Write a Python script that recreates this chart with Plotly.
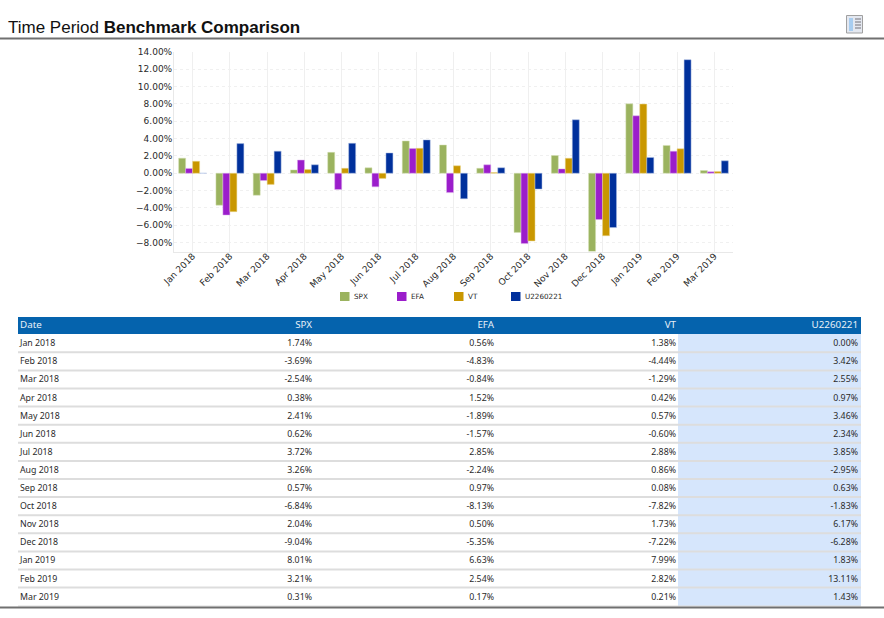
import plotly.graph_objects as go

months = ["Jan 2018", "Feb 2018", "Mar 2018", "Apr 2018", "May 2018", "Jun 2018", "Jul 2018", "Aug 2018",
          "Sep 2018", "Oct 2018", "Nov 2018", "Dec 2018", "Jan 2019", "Feb 2019", "Mar 2019"]
spx = [1.74, -3.69, -2.54, 0.38, 2.41, 0.62, 3.72, 3.26, 0.57, -6.84, 2.04, -9.04, 8.01, 3.21, 0.31]
efa = [0.56, -4.83, -0.84, 1.52, -1.89, -1.57, 2.85, -2.24, 0.97, -8.13, 0.50, -5.35, 6.63, 2.54, 0.17]
vt = [1.38, -4.44, -1.29, 0.42, 0.57, -0.60, 2.88, 0.86, 0.08, -7.82, 1.73, -7.22, 7.99, 2.82, 0.21]
u2260221 = [0.00, 3.42, 2.55, 0.97, 3.46, 2.34, 3.85, -2.95, 0.63, -1.83, 6.17, -6.28, 1.83, 13.11, 1.43]

series_names = ["SPX", "EFA", "VT", "U2260221"]
series_values = [spx, efa, vt, u2260221]
series_colors = ["#9BB35F", "#9B1DCB", "#C99700", "#00309C"]
series_edges = ["#D5E0B5", "#DDB0EE", "#EBD890", "#B0C0E4"]
y_ticks = [-8, -6, -4, -2, 0, 2, 4, 6, 8, 10, 12, 14]

W, H = 884, 618
TEXT = "#2A2A2A"
TABLE_FONT = "Noto Sans"

fig = go.Figure()

for name, values, color, edge in zip(series_names, series_values, series_colors, series_edges):
    fig.add_trace(go.Bar(x=months, y=values, name=name, marker_color=color,
                         marker_line=dict(color=edge, width=0.5), hoverinfo="x+y", showlegend=False))

# table drawn on a second, pixel sized pair of axes
row_y = [342.5 + i * 18.1 for i in range(len(months))]
text_y = [y + 1.6 for y in row_y]
col_right = [312, 494, 676, 858]

fig.add_trace(go.Scatter(x=[20] * len(months), y=text_y, text=months, mode="text",
                         textposition="middle right", xaxis="x2", yaxis="y2", showlegend=False,
                         textfont=dict(family=TABLE_FONT, size=8.8, color=TEXT), hoverinfo="skip"))
for right, values in zip(col_right, series_values):
    fig.add_trace(go.Scatter(x=[right] * len(months), y=text_y, text=[f"{v:.2f}%" for v in values],
                             mode="text", textposition="middle left", xaxis="x2", yaxis="y2",
                             showlegend=False, hoverinfo="skip",
                             textfont=dict(family=TABLE_FONT, size=8.8, color=TEXT)))

# header labels
fig.add_trace(go.Scatter(x=[20], y=[326], text=["Date"], mode="text", textposition="middle right",
                         xaxis="x2", yaxis="y2", showlegend=False, hoverinfo="skip",
                         textfont=dict(family=TABLE_FONT, size=9.8, color="#E8F0F8")))
fig.add_trace(go.Scatter(x=col_right, y=[326] * 4, text=series_names, mode="text",
                         textposition="middle left", xaxis="x2", yaxis="y2", showlegend=False,
                         hoverinfo="skip", textfont=dict(family=TABLE_FONT, size=9.8, color="#E8F0F8")))

shapes = [
    dict(type="line", x0=0, x1=W, y0=38.5, y1=38.5, line=dict(color="#707070", width=2)),
    dict(type="rect", x0=678, x1=861, y0=334, y1=606, fillcolor="#D6E6FC", line_width=0),
    dict(type="rect", x0=18, x1=861, y0=317, y1=334, fillcolor="#0563AD", line_width=0),
    dict(type="line", x0=18, x1=861, y0=606, y1=606, line=dict(color="#DDDDDD", width=1)),
    dict(type="line", x0=0, x1=W, y0=607.5, y1=607.5, line=dict(color="#707070", width=2)),
    # export icon
    dict(type="rect", x0=846.5, x1=862.5, y0=15.5, y1=33, fillcolor="#E4E8F0", line=dict(color="#A0A0A0", width=1)),
    dict(type="rect", x0=849, x1=853, y0=18, y1=31, fillcolor="#A8CDF0", line_width=0),
]
for y in [19, 22, 25, 28]:
    shapes.append(dict(type="line", x0=855, x1=861, y0=y, y1=y, line=dict(color="#9A9AA2", width=1.5)))
for y in row_y[:-1]:
    shapes.append(dict(type="line", x0=18, x1=861, y0=y + 9.8, y1=y + 9.8, line=dict(color="#DDDDDD", width=2)))

annotations = [dict(x=6, y=27, xref="x2", yref="y2", showarrow=False, xanchor="left", yanchor="middle",
                    text="Time Period <b>Benchmark Comparison</b>",
                    font=dict(family="Liberation Sans", size=17, color="#111111"))]

# legend row under the chart
for i, (name, color) in enumerate(zip(series_names, series_colors)):
    left = 340 + i * 57
    shapes.append(dict(type="rect", x0=left, x1=left + 9.5, y0=292, y1=301, fillcolor=color, line_width=0))
    annotations.append(dict(x=left + 11.5, y=296.5, xref="x2", yref="y2", showarrow=False, xanchor="left",
                            yanchor="middle", text=name, font=dict(size=7.2, color=TEXT)))

for s in shapes:
    s.update(xref="x2", yref="y2", layer="below")

fig.update_layout(
    width=W, height=H, margin=dict(l=0, r=0, t=0, b=0),
    paper_bgcolor="white", plot_bgcolor="rgba(0,0,0,0)",
    barmode="group", bargap=0.25, bargroupgap=0,
    font=dict(family="DejaVu Sans", size=9, color=TEXT),
    shapes=shapes, annotations=annotations, showlegend=False,
    xaxis=dict(domain=[174 / W, 733 / W], anchor="y", tickangle=-45, categoryorder="array", categoryarray=months,
               showgrid=True, gridcolor="#EFEFEF", ticks="", showline=True, linecolor="#E8E8E8",
               tickfont=dict(size=9, color=TEXT), automargin=False, ticklabelstandoff=-5),
    yaxis=dict(domain=[1 - 251.5 / H, 1 - 52 / H], anchor="x", range=[-9.04, 14], tickvals=y_ticks,
               ticktext=[f"{v:.2f}%".replace("-", "\u2212") for v in y_ticks], showgrid=True,
               gridcolor="#F0F0F0", griddash="dot", zeroline=False, ticks="", showline=True, linecolor="#E8E8E8",
               tickfont=dict(size=9, color=TEXT), automargin=False, ticklabelstandoff=-1),
    xaxis2=dict(domain=[0, 1], range=[0, W], visible=False, anchor="y2", fixedrange=True),
    yaxis2=dict(domain=[0, 1], range=[H, 0], visible=False, anchor="x2", fixedrange=True),
)

fig.write_html("out.html", config={"displayModeBar": False}, post_script="document.body.style.margin='0';")
